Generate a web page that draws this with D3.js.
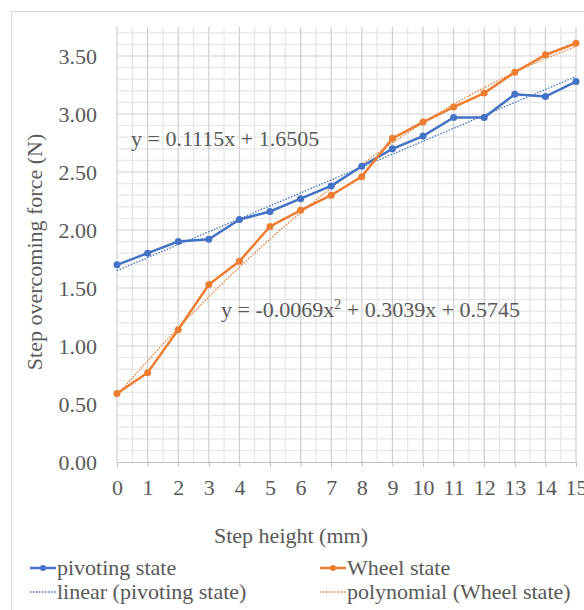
<!DOCTYPE html>
<html>
<head>
<meta charset="utf-8">
<script src="https://cdn.jsdelivr.net/npm/d3@7"></script>
<style>
  body { margin: 0; background: #fff; }
  text { font-family: "Liberation Serif", "Times New Roman", serif; fill: #595959; }
</style>
</head>
<body>
<script>
// data
const heights = [0, 1, 2, 3, 4, 5, 6, 7, 8, 9, 10, 11, 12, 13, 14, 15]
const pivoting = [1.70, 1.80, 1.90, 1.92, 2.09, 2.16, 2.27, 2.38, 2.55, 2.70, 2.81, 2.97, 2.97, 3.17, 3.15, 3.28]
const wheel = [0.59, 0.77, 1.14, 1.53, 1.73, 2.03, 2.17, 2.30, 2.46, 2.79, 2.93, 3.06, 3.18, 3.36, 3.51, 3.61]
// trendline coefficients (c0, c1, c2) as printed on the chart
const linearCoef = [1.6505, 0.1115]
const polyCoef = [0.5745, 0.3039, -0.0069]
const yTicks = [0, 0.5, 1, 1.5, 2, 2.5, 3, 3.5]
const seriesNames = ["pivoting state", "Wheel state", "linear (pivoting state)", "polynomial (Wheel state)"]

const w = 584
const h = 610
const blue = "#4472C4"
const orange = "#ED7D31"

const svg = d3.select("body")
              .append("svg")
              .attr("width", w)
              .attr("height", h)

// chart frame
svg.append("rect")
   .attr("x", 11.5)
   .attr("y", 11.5)
   .attr("width", 640)
   .attr("height", 640)
   .attr("fill", "none")
   .attr("stroke", "#d9d9d9")

const xScale = d3.scaleLinear().domain([0, 15]).range([117, 576])
const yScale = d3.scaleLinear().domain([0, 3.75]).range([462, 27])

// minor grid
const xMinor = d3.range(0.5, 15, 1)
const yMinor = d3.range(1, 38).map(d => d / 10).filter(d => Math.round(d * 10) % 5 !== 0)
svg.append("g").selectAll("line")
   .data(xMinor).enter().append("line")
   .attr("x1", d => xScale(d)).attr("x2", d => xScale(d))
   .attr("y1", yScale(0)).attr("y2", yScale(3.75))
   .attr("stroke", "#e6e6e6").attr("stroke-width", 1.2)
svg.append("g").selectAll("line")
   .data(yMinor).enter().append("line")
   .attr("x1", xScale(0)).attr("x2", xScale(15))
   .attr("y1", d => yScale(d)).attr("y2", d => yScale(d))
   .attr("stroke", "#e6e6e6").attr("stroke-width", 1.2)

// major grid
svg.append("g").selectAll("line")
   .data(heights).enter().append("line")
   .attr("x1", d => xScale(d)).attr("x2", d => xScale(d))
   .attr("y1", yScale(0)).attr("y2", yScale(3.75))
   .attr("stroke", "#cfcfcf").attr("stroke-width", 1.2)
svg.append("g").selectAll("line")
   .data(yTicks.slice(1)).enter().append("line")
   .attr("x1", xScale(0)).attr("x2", xScale(15))
   .attr("y1", d => yScale(d)).attr("y2", d => yScale(d))
   .attr("stroke", "#cfcfcf").attr("stroke-width", 1.2)

// x axis
const xAxis = d3.axisBottom(xScale).tickValues(heights).tickSize(5).tickPadding(12).tickFormat(d3.format("d"))
const gx = svg.append("g")
   .attr("transform", "translate(0, " + yScale(0) + ")")
   .call(xAxis)
gx.select(".domain").attr("stroke", "#bfbfbf")
gx.selectAll(".tick line").attr("stroke", "#bfbfbf")
gx.selectAll(".tick text").attr("font-size", 22).attr("fill", "#595959")

// y axis
const yAxis = d3.axisLeft(yScale).tickValues(yTicks).tickSize(0).tickPadding(20).tickFormat(d3.format(".2f"))
const gy = svg.append("g")
   .attr("transform", "translate(" + xScale(0) + ", 0)")
   .call(yAxis)
gy.select(".domain").remove()
gy.selectAll(".tick text").attr("font-size", 22).attr("fill", "#595959")

// trendlines
const fine = d3.range(0, 15.01, 0.25)
const lin = x => linearCoef[0] + linearCoef[1] * x
const poly = x => polyCoef[0] + polyCoef[1] * x + polyCoef[2] * x * x
const trend = d3.line().x(d => xScale(d[0])).y(d => yScale(d[1]))
svg.append("path")
   .attr("d", trend(fine.map(x => [x, lin(x)])))
   .attr("fill", "none").attr("stroke", blue).attr("stroke-width", 1.3)
   .attr("stroke-dasharray", "1.5,1.5")
svg.append("path")
   .attr("d", trend(fine.map(x => [x, poly(x)])))
   .attr("fill", "none").attr("stroke", orange).attr("stroke-width", 1.3)
   .attr("stroke-dasharray", "1.5,1.5")

// series
const line = d3.line().x((d, i) => xScale(heights[i])).y(d => yScale(d))
const series = [[pivoting, blue], [wheel, orange]]
series.forEach(s => {
  svg.append("path")
     .attr("d", line(s[0]))
     .attr("fill", "none").attr("stroke", s[1]).attr("stroke-width", 2.5)
  svg.append("g").selectAll("circle")
     .data(s[0]).enter().append("circle")
     .attr("cx", (d, i) => xScale(heights[i]))
     .attr("cy", d => yScale(d))
     .attr("r", 3.5)
     .attr("fill", s[1])
})

// equations
svg.append("text")
   .attr("x", 131).attr("y", 146)
   .attr("font-size", 22)
   .text("y = 0.1115x + 1.6505")
const eq2 = svg.append("text")
   .attr("x", 221).attr("y", 317)
   .attr("font-size", 22)
eq2.append("tspan").text("y = -0.0069x")
eq2.append("tspan").attr("font-size", 14).attr("dy", -8).text("2")
eq2.append("tspan").attr("dy", 8).text(" + 0.3039x + 0.5745")

// axis titles
svg.append("text")
   .attr("x", 291).attr("y", 543)
   .attr("text-anchor", "middle")
   .attr("font-size", 22)
   .text("Step height (mm)")
svg.append("text")
   .attr("transform", "translate(42, 252) rotate(-90)")
   .attr("text-anchor", "middle")
   .attr("font-size", 22)
   .text("Step overcoming force (N)")

// legend
const legendPos = [[30, 568], [320, 568], [30, 592], [320, 592]]
const legendColor = [blue, orange, blue, orange]
seriesNames.forEach((name, i) => {
  const g = svg.append("g").attr("transform", "translate(" + legendPos[i][0] + "," + legendPos[i][1] + ")")
  if (i < 2) {
    g.append("line").attr("x1", 0).attr("x2", 26).attr("y1", 0).attr("y2", 0)
     .attr("stroke", legendColor[i]).attr("stroke-width", 2.5)
    g.append("circle").attr("cx", 13).attr("cy", 0).attr("r", 3).attr("fill", legendColor[i])
  } else {
    g.append("line").attr("x1", 0).attr("x2", 26).attr("y1", 0).attr("y2", 0)
     .attr("stroke", legendColor[i]).attr("stroke-width", 1.3).attr("stroke-dasharray", "1.5,1.5")
  }
  g.append("text").attr("x", 27).attr("y", 7).attr("font-size", 22).text(name)
})
</script>
</body>
</html>
